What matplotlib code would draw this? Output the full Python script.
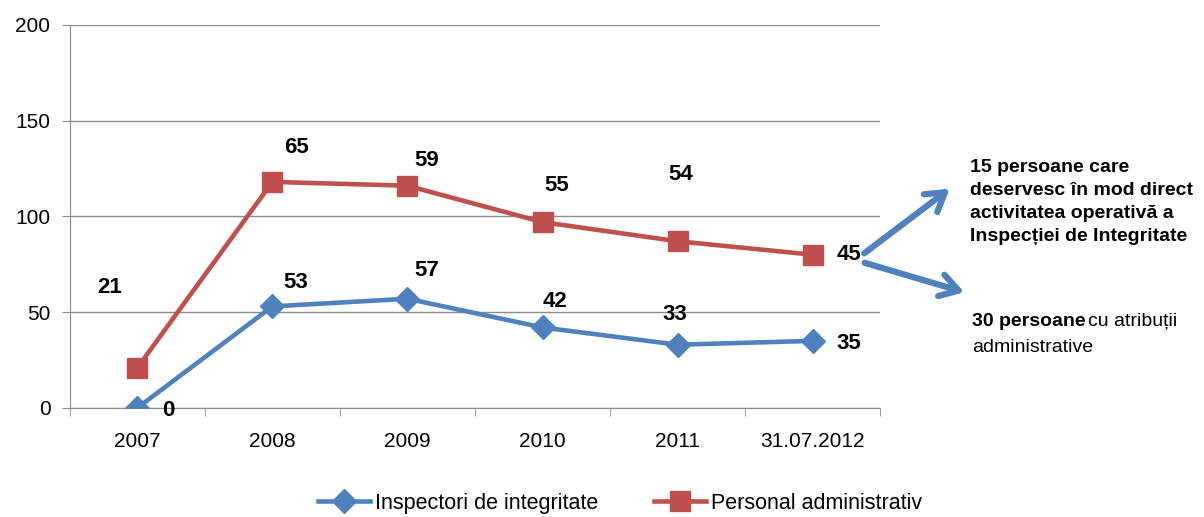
import numpy as np
import matplotlib
matplotlib.use("Agg")
from matplotlib import pyplot as plt

plt.rcParams['font.family'] = ['Liberation Sans', 'DejaVu Sans']

years = ["2007", "2008", "2009", "2010", "2011", "31.07.2012"]
inspectori = [0, 53, 57, 42, 33, 35]
administrativ = [21, 65, 59, 55, 54, 45]
names = ["Inspectori de integritate", "Personal administrativ"]

blue = "#4F81BD"
red = "#C0504D"
grid = "#8C8C8C"

# offsets (points) of the data labels, placed by hand in the original
blue_off = [(22, -2), (17, 17), (14, 20), (9, 19), (-2, 22), (26, -2)]
red_off = [(-20, 58), (17, 25), (14, 18), (10, 26), (2, 48), (26, 0)]

x = np.arange(len(years))
stacked = np.array(inspectori) + np.array(administrativ)

fig = plt.figure(figsize=(12.04, 5.17), dpi=100)
ax = fig.add_axes([0.058, 0.211, 0.673, 0.741])

ax.plot(x, inspectori, color=blue, lw=3.3, marker="D", ms=12, label=names[0], zorder=3)
ax.plot(x, stacked, color=red, lw=3.3, marker="s", ms=14, label=names[1], zorder=3)

for i in range(len(x)):
    ax.annotate(str(inspectori[i]), (x[i], inspectori[i]), xytext=blue_off[i],
                textcoords="offset points", ha="center", va="center",
                fontsize=16, fontweight="bold")
    ax.annotate(str(administrativ[i]), (x[i], stacked[i]), xytext=red_off[i],
                textcoords="offset points", ha="center", va="center",
                fontsize=16, fontweight="bold")

ax.set_xlim(-0.5, len(years) - 0.5)
ax.set_ylim(0, 200)
ax.set_yticks([0, 50, 100, 150, 200])
ax.set_xticks(x)
ax.set_xticklabels(years)
ax.set_xticks(np.arange(-0.5, len(years)), minor=True)
ax.tick_params(axis="x", which="major", length=0, pad=17, labelsize=15)
ax.tick_params(axis="x", which="minor", length=6, color=grid, direction="out")
ax.tick_params(axis="y", length=6, color=grid, pad=8, labelsize=15)
ax.grid(axis="y", color=grid, lw=1)
ax.set_axisbelow(True)
for s in ["top", "right"]:
    ax.spines[s].set_visible(False)
for s in ["left", "bottom"]:
    ax.spines[s].set_color(grid)

fig.legend(loc="center", bbox_to_anchor=(0.515, 0.027), ncol=2, frameon=False,
           fontsize=15.5, handlelength=2.4, columnspacing=2.6, handletextpad=0.25)

# arrows splitting the 45 administrative staff
arrow = dict(arrowstyle="->,head_length=1.3,head_width=0.8", color=blue, lw=4.5)
ax.annotate("", xy=(952, 517 - 187), xytext=(862, 517 - 255),
            xycoords="figure pixels", textcoords="figure pixels", arrowprops=arrow)
ax.annotate("", xy=(967, 517 - 293), xytext=(862, 517 - 262),
            xycoords="figure pixels", textcoords="figure pixels", arrowprops=arrow)

fig.text(970 / 1204, 1 - 159 / 517,
         "15 persoane care\ndeservesc în mod direct\nactivitatea operativă a\nInspecției de Integritate",
         ha="left", va="top", fontsize=14, fontweight="bold", linespacing=1.45)
t1 = fig.text(972 / 1204, 1 - 322 / 517, "30 persoane", ha="left", va="center",
              fontsize=14, fontweight="bold")
fig.canvas.draw()
bb = t1.get_window_extent()
fig.text(bb.x1 / 1204 + 0.002, 1 - 322 / 517, "cu atribuții", ha="left", va="center", fontsize=14)
fig.text(972 / 1204, 1 - 347 / 517, "administrative", ha="left", va="center", fontsize=14)

fig.savefig("out.png", dpi=100)
